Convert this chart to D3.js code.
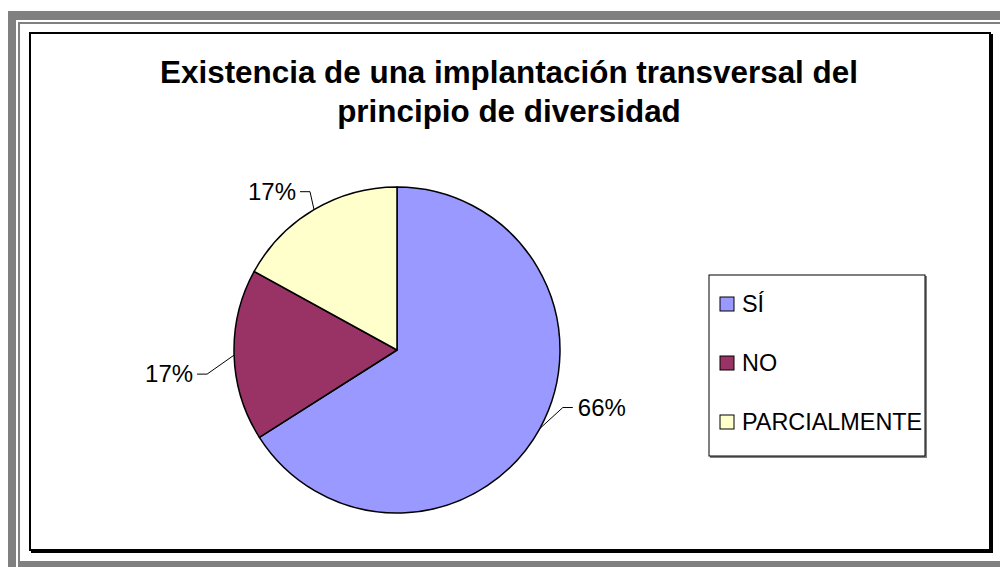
<!DOCTYPE html>
<html>
<head>
<meta charset="utf-8">
<script src="https://cdn.jsdelivr.net/npm/d3@7"></script>
<style>
  body { margin: 0; background: #ffffff; }
  text { font-family: "Liberation Sans", Arial, sans-serif; }
</style>
</head>
<body>
<div id="chart"></div>
<script>
// Data
var categories = ["SÍ", "NO", "PARCIALMENTE"];
var values = [66, 17, 17];
var colors = ["#9999FF", "#993366", "#FFFFCC"];
var titleLines = ["Existencia de una implantación transversal del", "principio de diversidad"];

// Elbow of each leader line, relative to the point on the pie edge
var labelOffsets = [[23, -21], [-27, 19], [-4, -18]];

var width = 1000, height = 567;

var svg = d3.select("#chart").append("svg")
    .attr("width", width)
    .attr("height", height);

// Gray frame round the picture
svg.append("rect").attr("x", 8).attr("y", 11).attr("width", 992).attr("height", 9).style("fill", "#808080");
svg.append("rect").attr("x", 8).attr("y", 11).attr("width", 8).attr("height", 556).style("fill", "#808080");
svg.append("rect").attr("x", 18).attr("y", 22).attr("width", 982).attr("height", 2).style("fill", "#808080");
svg.append("rect").attr("x", 18).attr("y", 22).attr("width", 2).attr("height", 545).style("fill", "#808080");
svg.append("rect").attr("x", 18).attr("y", 561).attr("width", 982).attr("height", 6).style("fill", "#808080");

// Chart area border with a small shadow
svg.append("rect")
    .attr("x", 32).attr("y", 35).attr("width", 960).attr("height", 517)
    .style("fill", "none").style("stroke", "#000").style("stroke-width", 2);
svg.append("rect")
    .attr("x", 30).attr("y", 33).attr("width", 960).attr("height", 517)
    .style("fill", "#fff").style("stroke", "#000").style("stroke-width", 2);

// Title
svg.append("g").selectAll("text")
    .data(titleLines)
  .enter().append("text")
    .attr("x", 509)
    .attr("y", function(d, i) { return 83 + i * 39; })
    .style("text-anchor", "middle")
    .style("font-weight", "bold")
    .style("font-size", "31.4px")
    .text(function(d) { return d; });

// Pie
var cx = 397, cy = 350, radius = 163;
var total = d3.sum(values);

var pie = d3.pie().sort(null).value(function(d) { return d; });
var arcs = pie(values);

var arc = d3.arc().innerRadius(0).outerRadius(radius);

var pieG = svg.append("g")
    .attr("transform", "translate(" + cx + "," + cy + ")");

pieG.selectAll("path")
    .data(arcs)
  .enter().append("path")
    .attr("d", arc)
    .style("fill", function(d, i) { return colors[i]; })
    .style("stroke", "#000")
    .style("stroke-width", 1.5)
    .style("stroke-linejoin", "round");

// Leader lines and percentage labels
arcs.forEach(function(d, i) {
  var a = (d.startAngle + d.endAngle) / 2;
  var px = radius * Math.sin(a), py = -radius * Math.cos(a);
  var ex = px + labelOffsets[i][0], ey = py + labelOffsets[i][1];
  var right = Math.sin(a) > 0;
  var hx = ex + (right ? 10 : -10);

  pieG.append("polyline")
    .attr("points", [[px, py], [ex, ey], [hx, ey]].join(" "))
    .style("fill", "none")
    .style("stroke", "#000")
    .style("stroke-width", 1);

  pieG.append("text")
    .attr("x", hx + (right ? 5 : -4))
    .attr("y", ey + 8)
    .style("text-anchor", right ? "start" : "end")
    .style("font-size", "24px")
    .text(Math.round(d.value / total * 100) + "%");
});

// Legend
var legend = svg.append("g");
legend.append("rect")
    .attr("x", 710).attr("y", 276).attr("width", 217).attr("height", 182)
    .style("fill", "#808080");
legend.append("rect")
    .attr("x", 709).attr("y", 275).attr("width", 216).attr("height", 181)
    .style("fill", "#fff").style("stroke", "#000").style("stroke-width", 1);

var legendY = d3.scalePoint().domain(categories).range([304, 422]);

var items = legend.selectAll(".item")
    .data(categories)
  .enter().append("g")
    .attr("class", "item")
    .attr("transform", function(d) { return "translate(720," + legendY(d) + ")"; });

items.append("rect")
    .attr("x", 0).attr("y", -7).attr("width", 14).attr("height", 14)
    .style("fill", function(d, i) { return colors[i]; })
    .style("stroke", "#000")
    .style("stroke-width", 1);

items.append("text")
    .attr("x", 22)
    .attr("y", 8)
    .style("font-size", "23.4px")
    .text(function(d) { return d; });
</script>
</body>
</html>
